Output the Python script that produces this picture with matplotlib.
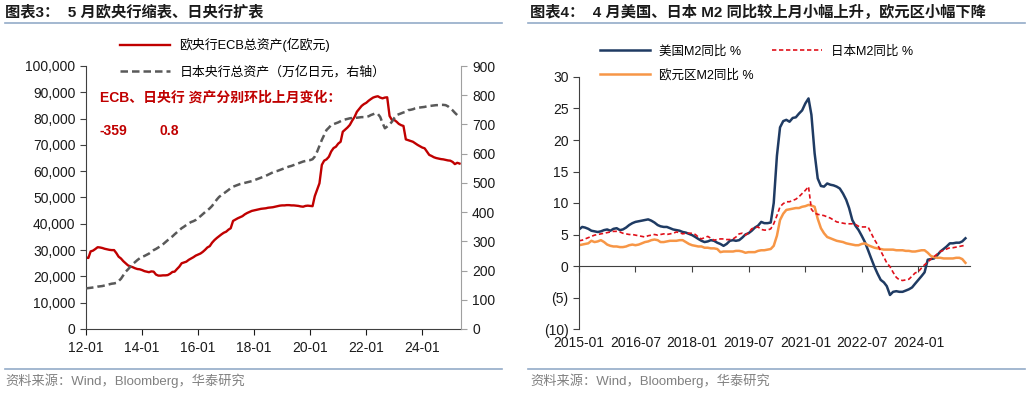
import numpy as np
import pandas as pd
import matplotlib
matplotlib.use("Agg")
import matplotlib.pyplot as plt
import matplotlib.dates as mdates
from matplotlib.lines import Line2D
from matplotlib.ticker import FuncFormatter

plt.rcParams['font.family'] = ['Liberation Sans', 'Noto Sans CJK SC', 'DejaVu Sans']

# ---- left chart: central bank balance sheets, monthly from 2012-01 ----
ecb_assets = [
    27200, 27000, 29500, 29800, 30400, 31100, 31000, 30800, 30500, 30300, 30100, 30000,
    30000, 28800, 27500, 26800, 25800, 25000, 24200, 23800, 23500, 23100, 22800, 22700,
    22400, 22000, 21800, 21600, 21900, 21800, 20700, 20300, 20300, 20400, 20400, 20500,
    21000, 21700, 21800, 22800, 23700, 25000, 25300, 25600, 26300, 26800, 27300, 27900,
    28300, 28700, 29300, 30100, 31000, 31500, 32800, 33800, 34600, 35300, 36000, 36600,
    37000, 37800, 38300, 41100, 41600, 42100, 42500, 42900, 43600, 44100, 44500, 44900,
    45100, 45300, 45500, 45700, 45800, 45900, 46100, 46200, 46300, 46500, 46700, 46900,
    47000, 47000, 47100, 47100, 47000, 47000, 46900, 46800, 46600, 46500, 46800, 46900,
    46800, 46700, 50500, 53000, 55400, 62400, 64000, 64500, 65500, 67500, 68800, 69300,
    70500, 71200, 75000, 75800, 76600, 77600, 79200, 80600, 82600, 83700, 84800, 85500,
    86000, 86800, 87400, 88000, 88300, 88500, 88000, 87700, 88000, 88100, 81000, 79500,
    79500, 78800, 78000, 77500, 77200, 72100, 71800, 71500, 71200, 70600, 70000, 69500,
    69000, 68700, 67500, 66200, 65800, 65300, 65000, 64800, 64600, 64500, 64300, 64100,
    64000, 63500, 62700, 63200, 62900,
]
boj_assets = [
    139, 140, 141, 142, 143, 145, 146, 147, 149, 151, 153, 155,
    156, 158, 164, 172, 184, 196, 204, 213, 222, 229, 236, 242,
    247, 250, 254, 258, 264, 270, 274, 279, 284, 290, 297, 304,
    311, 317, 324, 331, 338, 345, 350, 356, 361, 366, 369, 373,
    380, 386, 393, 400, 406, 413, 421, 432, 443, 452, 458, 464,
    470, 476, 482, 487, 490, 493, 496, 498, 500, 502, 504, 506,
    509, 512, 515, 518, 521, 524, 528, 532, 536, 539, 541, 544,
    547, 550, 553, 556, 558, 561, 564, 567, 570, 573, 575, 578,
    578, 581, 590, 607, 627, 647, 664, 681, 689, 698, 701, 704,
    707, 711, 715, 717, 719, 721, 722, 723, 723, 724, 725, 725,
    726, 728, 732, 735, 738, 736, 726, 705, 687, 693, 700, 709,
    722, 732, 735, 738, 741, 743, 749, 750, 752, 755, 757, 758,
    759, 760, 762, 763, 764, 765, 766, 766, 767, 767, 766, 762,
    755, 748, 740, 732, 733,
]
ecb_change = "-359"
boj_change = "0.8"

# ---- right chart: M2 YoY %, monthly from 2015-01 ----
us_m2 = [
    5.8, 6.2, 6.1, 5.9, 5.6, 5.5, 5.4, 5.5, 5.7, 5.8, 5.6, 5.9,
    6.0, 5.7, 5.8, 6.1, 6.5, 6.8, 7.0, 7.1, 7.2, 7.3, 7.4, 7.2,
    6.9, 6.5, 6.3, 6.2, 6.2, 6.0, 5.8, 5.7, 5.6, 5.4, 5.3, 5.1,
    4.9, 4.6, 4.3, 4.0, 3.8, 3.9, 4.1, 4.0, 3.7, 3.5, 3.2, 3.5,
    4.0, 4.1, 4.0, 4.1, 4.5, 5.0, 5.2, 5.6, 6.1, 6.4, 7.0, 6.8,
    6.8, 6.9, 10.0, 17.5, 22.0, 23.0, 23.2, 22.9, 23.5, 23.6, 24.2, 24.7,
    25.8, 26.6, 24.0, 17.9, 13.9, 12.7, 12.6, 13.1, 12.9, 12.8, 12.6, 12.3,
    11.5, 10.5, 9.2, 7.3, 6.4, 5.7, 4.8, 3.8, 2.5, 1.2, -0.1, -1.2,
    -2.2, -2.6, -3.2, -4.6, -4.1, -4.0, -4.1, -4.1, -3.9, -3.7, -3.4, -2.8,
    -2.2, -1.6, -1.0, 1.0, 1.1, 1.2, 1.7, 2.3, 2.7, 3.1, 3.6, 3.6,
    3.7, 3.7, 3.9, 4.4,
]
jp_m2 = [
    4.0, 4.1, 4.3, 4.5, 4.7, 4.9, 5.0, 5.1, 5.2, 5.3, 5.4, 5.5,
    5.5, 5.4, 5.2, 5.1, 5.0, 5.0, 4.9, 4.8, 4.7, 4.6, 4.8, 4.9,
    5.0, 4.9, 5.0, 5.1, 5.0, 5.1, 5.2, 5.4, 5.3, 5.1, 5.2, 5.2,
    5.2, 5.0, 4.6, 4.3, 4.5, 4.7, 4.4, 4.1, 4.2, 4.3, 4.3, 4.2,
    4.2, 4.3, 4.6, 5.1, 5.2, 4.9, 5.3, 5.9, 6.1, 6.2, 5.8, 5.7,
    5.7, 5.9, 6.7, 8.0, 9.4, 9.9, 10.2, 10.2, 10.4, 10.6, 11.0, 11.5,
    12.0, 12.6, 9.0, 8.4, 8.2, 8.1, 8.0, 7.8, 7.6, 7.3, 7.0, 6.9,
    6.8, 6.7, 6.7, 6.7, 6.6, 6.3, 6.2, 6.2, 6.2, 5.2, 4.2, 3.4,
    2.4, 1.4, 0.5, -0.1, -1.0, -1.8, -2.2, -2.3, -2.2, -2.1, -1.6, -1.1,
    -0.9, -0.3, 0.2, 0.6, 1.1, 1.5, 1.9, 2.3, 2.5, 2.7, 2.9, 2.9,
    3.0, 3.1, 3.2, 3.3,
]
eu_m2 = [
    3.3, 3.4, 3.5, 3.6, 4.0, 3.8, 3.9, 4.1, 3.8, 3.4, 3.2, 3.1,
    3.1, 3.0, 3.0, 3.1, 3.3, 3.4, 3.3, 3.4, 3.6, 3.8, 3.9, 4.1,
    4.2, 4.1, 3.8, 3.8, 3.9, 4.0, 4.0, 4.0, 4.1, 4.1, 3.8, 3.5,
    3.3, 3.2, 3.1, 3.1, 2.9, 2.9, 2.8, 2.8, 2.7, 2.2, 2.3, 2.3,
    2.3, 2.3, 2.4, 2.4, 2.3, 2.1, 2.2, 2.2, 2.2, 2.4, 2.5, 2.5,
    2.6, 2.7, 3.2, 4.8, 7.3, 8.3, 8.9, 9.0, 9.1, 9.2, 9.2, 9.4,
    9.5, 9.7, 9.6, 9.4, 7.5, 6.0, 5.2, 4.6, 4.4, 4.2, 4.0, 3.9,
    3.8, 3.6, 3.5, 3.4, 3.3, 3.3, 3.5, 3.6, 3.3, 3.1, 2.9, 2.8,
    2.7, 2.6, 2.6, 2.6, 2.6, 2.5, 2.5, 2.5, 2.4, 2.4, 2.3, 2.3,
    2.4, 2.5, 2.5, 2.1, 1.6, 1.4, 1.3, 1.3, 1.2, 1.2, 1.2, 1.2,
    1.3, 1.3, 1.1, 0.5,
]

left_title = "图表3：  5 月欧央行缩表、日央行扩表"
right_title = "图表4：  4 月美国、日本 M2 同比较上月小幅上升，欧元区小幅下降"
source = "资料来源：Wind，Bloomberg，华泰研究"

red = "#C00000"
txt = "#1A1A1A"

fig = plt.figure(figsize=(10.29, 3.93), dpi=100)
W, H = 1029, 393


def fx(px):
    return px / W


def fy(py):
    return 1 - py / H


# headers and rules
fig.text(fx(5), fy(12), left_title, fontsize=11, fontweight='bold', va='center', color=txt)
fig.text(fx(530), fy(12), right_title, fontsize=11, fontweight='bold', va='center', color=txt)
for x0, x1 in [(5, 502), (528, 1025)]:
    fig.add_artist(Line2D([fx(x0), fx(x1)], [fy(23), fy(23)], color="#94ABC8", lw=1.2))
    fig.add_artist(Line2D([fx(x0), fx(x1)], [fy(369), fy(369)], color="#94ABC8", lw=1.2))
fig.text(fx(5), fy(381), source, fontsize=9.5, color="#808080", va='center')
fig.text(fx(530), fy(381), source, fontsize=9.5, color="#808080", va='center')

# ---- left chart ----
dates_l = pd.date_range("2012-01-01", periods=len(ecb_assets), freq="MS")
ax = fig.add_axes([fx(86), fy(329), fx(461) - fx(86), fy(66) - fy(329)])
ax2 = ax.twinx()
l1, = ax.plot(dates_l, ecb_assets, color=red, lw=1.7, label="欧央行ECB总资产(亿欧元)")
l2, = ax2.plot(dates_l, boj_assets, color="#595959", lw=1.8, dashes=(3, 1.6),
               label="日本央行总资产（万亿日元，右轴）")
ax.set_xlim(pd.Timestamp("2012-01-01"), pd.Timestamp("2025-05-20"))
ax.set_ylim(0, 100000)
ax.set_yticks(np.arange(0, 100001, 10000))
ax.yaxis.set_major_formatter(FuncFormatter(lambda v, p: f"{int(v):,}"))
ax2.set_ylim(0, 900)
ax2.set_yticks(np.arange(0, 901, 100))
ax.xaxis.set_major_locator(mdates.YearLocator(2, month=1))
ax.xaxis.set_major_formatter(mdates.DateFormatter("%y-%m"))
for a in (ax, ax2):
    a.spines['top'].set_visible(False)
ax.spines['right'].set_visible(False)
ax2.spines['left'].set_visible(False)
ax2.spines['bottom'].set_visible(False)
ax.spines['left'].set_color("#404040")
ax.spines['bottom'].set_color("#404040")
ax2.spines['right'].set_color("#A0A0A0")
ax.tick_params(axis='both', labelsize=10, colors=txt, length=4, direction='out')
ax.tick_params(axis='x', pad=5)
ax2.tick_params(axis='y', labelsize=10, colors=txt, length=4, color="#A0A0A0", pad=4)
ax.tick_params(axis='y', color="#404040")
ax2.legend(handles=[l1, l2], loc='upper left', bbox_to_anchor=((120 - 86) / 375, (329 - 38) / 263),
           frameon=False, fontsize=9.3, handlelength=3.9, handletextpad=0.7,
           labelspacing=1.05, borderpad=0, borderaxespad=0)
ax2.text((100 - 86) / 375, (329 - 98) / 263, "ECB、日央行 资产分别环比上月变化：", transform=ax.transAxes,
         color=red, fontsize=10, fontweight='bold', va='center')
ax2.text((100 - 86) / 375, (329 - 131) / 263, ecb_change, transform=ax.transAxes,
         color=red, fontsize=10, fontweight='bold', va='center')
ax2.text((160 - 86) / 375, (329 - 131) / 263, boj_change, transform=ax.transAxes,
         color=red, fontsize=10, fontweight='bold', va='center')

# ---- right chart ----
dates_r = pd.date_range("2015-01-01", periods=len(us_m2), freq="MS")
bx = fig.add_axes([fx(579), fy(329), fx(970) - fx(579), fy(77) - fy(329)])
h1, = bx.plot(dates_r, us_m2, color="#1F3B63", lw=1.8, label="美国M2同比 %")
h3, = bx.plot(dates_r, eu_m2, color="#F79646", lw=1.8, label="欧元区M2同比 %")
h2, = bx.plot(dates_r, jp_m2, color="#E0101A", lw=1.2, dashes=(2.6, 1.6), label="日本M2同比 %")
bx.set_xlim(pd.Timestamp("2015-01-01"), pd.Timestamp("2025-05-15"))
bx.set_ylim(-10, 30)
bx.set_yticks(np.arange(-10, 31, 5))
bx.yaxis.set_major_formatter(FuncFormatter(lambda v, p: f"({int(-v)})" if v < 0 else f"{int(v)}"))
xt = pd.date_range("2015-01-01", periods=7, freq="18MS")
bx.set_xticks(xt)
bx.xaxis.set_major_formatter(mdates.DateFormatter("%Y-%m"))
for s in ('top', 'right', 'bottom'):
    bx.spines[s].set_visible(False)
bx.spines['left'].set_color("#404040")
bx.tick_params(axis='y', labelsize=10, colors=txt, length=4, color="#404040")
bx.tick_params(axis='x', labelsize=10, colors=txt, length=0, pad=5)
sec = bx.secondary_xaxis(0.25)
sec.set_xticks(xt)
sec.tick_params(axis='x', labelbottom=False, length=4, color="#404040", direction='out')
sec.spines['bottom'].set_color("#404040")
bx.legend(handles=[h1, h3, h2], ncol=2, loc='upper left',
          bbox_to_anchor=((600 - 579) / 391, (329 - 45) / 252),
          frameon=False, fontsize=9, handlelength=4.0, handletextpad=0.7,
          labelspacing=0.95, columnspacing=1.5, borderpad=0, borderaxespad=0)

fig.savefig("out.png", dpi=100)
